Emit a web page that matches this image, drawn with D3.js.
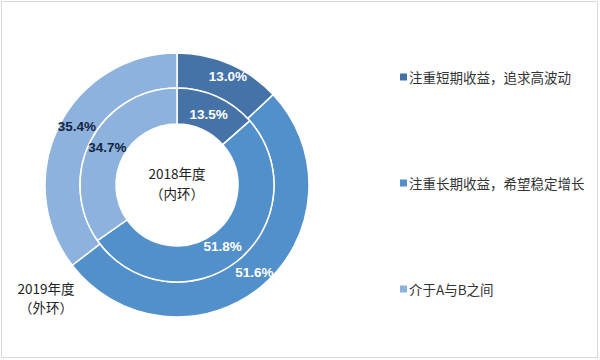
<!DOCTYPE html>
<html><head><meta charset="utf-8">
<script src="https://cdn.jsdelivr.net/npm/d3@7"></script>
<style>body{margin:0;background:#fff}svg{display:block}</style>
</head><body>
<svg id="c" width="600" height="360"></svg>
<script>
const categories = ["注重短期收益，追求高波动", "注重长期收益，希望稳定增长", "介于A与B之间"];
const inner2018 = [13.5, 51.8, 34.7];
const outer2019 = [13.0, 51.6, 35.4];
const colors = ["#4673a7", "#5290cb", "#8cb2dd"];
const labelColors = ["#ffffff", "#ffffff", "#14253f"];

const svg = d3.select("#c");
const font = "'Noto Sans CJK SC','Microsoft YaHei',sans-serif";
svg.append("rect").attr("x",1.5).attr("y",1.5).attr("width",596).attr("height",356)
  .attr("fill","#fff").attr("stroke","#d9d9d9");

const cx = 177, cy = 185;
const g = svg.append("g").attr("transform", `translate(${cx},${cy})`);
const pie = d3.pie().sort(null).value(d => d);
const color = d3.scaleOrdinal().domain(d3.range(3)).range(colors);

function ring(data, r0, r1) {
  const arc = d3.arc().innerRadius(r0).outerRadius(r1);
  const arcs = pie(data);
  g.append("g").selectAll("path").data(arcs).join("path")
    .attr("d", arc).attr("fill", (d,i) => color(i))
    .attr("stroke", "#fff").attr("stroke-width", 1.5);
  return arcs;
}
const outerArcs = ring(outer2019, 97, 132);
const innerArcs = ring(inner2018, 61, 97);

function pos(arcs, i, r, da) {
  const a = (arcs[i].startAngle + arcs[i].endAngle)/2 + (da||0);
  return [r*Math.sin(a), -r*Math.cos(a)];
}
function placeLabels(arcs, data, offsets) {
  g.append("g").selectAll("text").data(arcs).join("text")
    .attr("x", (d,i) => offsets[i][0]).attr("y", (d,i) => offsets[i][1])
    .attr("text-anchor","middle").attr("dominant-baseline","central")
    .attr("font-family","'Liberation Sans Narrow','Liberation Sans',Arial,sans-serif")
    .attr("font-weight","bold").attr("font-size",13.5)
    .attr("fill",(d,i) => labelColors[i])
    .text((d,i) => data[i].toFixed(1) + "%");
}
placeLabels(outerArcs, outer2019, [pos(outerArcs,0,120,0.03), pos(outerArcs,1,117,-0.02), pos(outerArcs,2,116,0.07)]);
placeLabels(innerArcs, inner2018, [pos(innerArcs,0,77,0), pos(innerArcs,1,77,0.03), pos(innerArcs,2,79,0.01)]);

// center texts
const t = (x,y,s) => svg.append("text").attr("x",x).attr("y",y).attr("text-anchor","middle")
  .attr("dominant-baseline","central").attr("font-family",font).attr("font-size",13.5)
  .attr("fill","#222").text(s);
t(cx, 173, "2018年度");
t(cx, 193, "（内环）");
t(46, 288, "2019年度");
t(46, 307, "（外环）");

// legend
const ly = d3.scalePoint().domain(d3.range(3)).range([77, 289]);
const lg = svg.append("g");
lg.selectAll("rect").data(categories).join("rect")
  .attr("x",400).attr("y",(d,i)=>ly(i)-3.5).attr("width",7).attr("height",7)
  .attr("fill",(d,i)=>color(i));
lg.selectAll("text").data(categories).join("text")
  .attr("x",409).attr("y",(d,i)=>ly(i)).attr("dominant-baseline","central")
  .attr("font-family",font).attr("font-size",13.5).attr("fill","#333")
  .text(d=>d);
</script>
</body></html>
